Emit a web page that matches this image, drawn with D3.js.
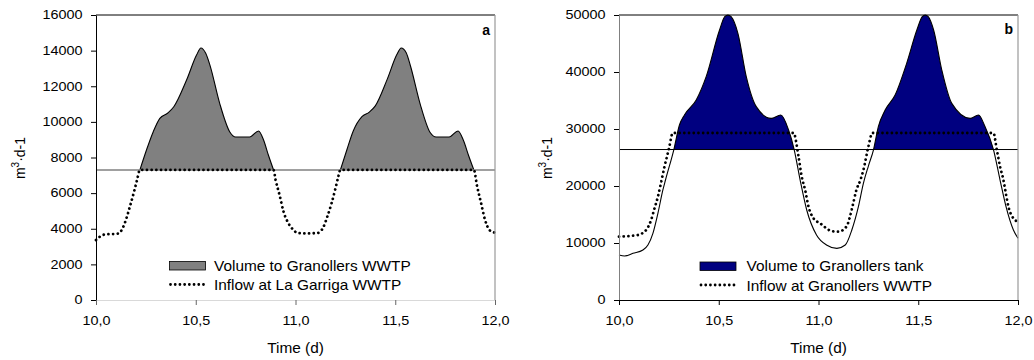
<!DOCTYPE html>
<html>
<head>
<meta charset="utf-8">
<script src="https://cdn.jsdelivr.net/npm/d3@7"></script>
<style>
    body { margin: 0; background: #fff; }
    svg { font-family: "Liberation Sans", Arial, Helvetica, sans-serif; }
</style>
</head>
<body>
<svg id="chart" width="1034" height="360"></svg>
<script>
// axis ticks
var xTicks = [10, 10.5, 11, 11.5, 12];
var xTickLabels = ["10,0", "10,5", "11,0", "11,5", "12,0"];
var yTicksA = [0, 2000, 4000, 6000, 8000, 10000, 12000, 14000, 16000];
var yTicksB = [0, 10000, 20000, 30000, 40000, 50000];

// panel a : La Garriga
var thresholdA = 7300;
var inflowTimeA = [10.00, 10.02, 10.05, 10.08, 10.11, 10.13, 10.15, 10.17, 10.19, 10.205, 10.22,
    10.89, 10.90, 10.92, 10.94, 10.965, 10.99, 11.01, 11.06, 11.11, 11.14, 11.16, 11.18, 11.20, 11.213, 11.225,
    11.894, 11.91, 11.93, 11.95, 11.975, 12.00];
var inflowA = [3370, 3560, 3690, 3700, 3730, 3950, 4500, 5250, 6050, 6700, 7300,
    7300, 6750, 5900, 4960, 4300, 3930, 3760, 3740, 3760, 4100, 4700, 5400, 6250, 6850, 7300,
    7300, 6400, 5450, 4500, 3900, 3780];
var volTimeA1 = [10.22, 10.253, 10.287, 10.32, 10.36, 10.39, 10.454, 10.504, 10.526, 10.55, 10.571,
    10.62, 10.67, 10.70, 10.77, 10.815, 10.84, 10.864, 10.89];
var volA1 = [7300, 8420, 9450, 10200, 10500, 10850, 12350, 13750, 14150, 13850, 13190,
    11040, 9450, 9150, 9150, 9490, 8980, 8140, 7300];
var volTimeA2 = [11.225, 11.258, 11.29, 11.333, 11.37, 11.40, 11.46, 11.508, 11.53, 11.555, 11.576,
    11.625, 11.675, 11.705, 11.77, 11.815, 11.842, 11.868, 11.894];
var volA2 = [7300, 8450, 9500, 10290, 10550, 10900, 12400, 13780, 14150, 13880, 13150,
    11000, 9400, 9150, 9150, 9490, 8950, 8100, 7300];

// panel b : Granollers
var thresholdB = 26400;
var totalTimeB = [10.00, 10.028, 10.07, 10.12, 10.145, 10.17, 10.195, 10.22, 10.233, 10.275, 10.303, 10.328,
    10.387, 10.437, 10.504, 10.53, 10.546, 10.562, 10.596, 10.638, 10.688, 10.763, 10.811, 10.85, 10.878,
    10.908, 10.941, 10.99, 11.04, 11.092, 11.134, 11.167, 11.20, 11.225, 11.25, 11.276, 11.30, 11.334,
    11.384, 11.442, 11.493, 11.52, 11.535, 11.55, 11.577, 11.618, 11.668, 11.76, 11.802, 11.835, 11.877,
    11.91, 11.94, 11.977, 12.00];
var totalB = [7900, 7720, 8190, 8770, 9650, 11700, 15210, 19300, 21050, 26400, 30700, 32460,
    35090, 39180, 47370, 49700, 50000, 49700, 46790, 39180, 33920, 31870, 32460, 29820, 26400,
    21050, 15790, 11400, 9650, 9060, 9650, 12280, 16370, 20470, 23500, 26400, 30400, 33330,
    35960, 41520, 47370, 49700, 50000, 49700, 47370, 40350, 34500, 31870, 32460, 30400, 26400,
    21050, 16370, 12280, 10820];
var inflowTimeB = [10.00, 10.053, 10.094, 10.136, 10.161, 10.178, 10.195, 10.21, 10.228, 10.25, 10.27,
    10.875, 10.90, 10.916, 10.933, 10.95, 10.975, 11.008, 11.066, 11.10, 11.14, 11.17, 11.19, 11.21,
    11.225, 11.25, 11.27, 11.877, 11.894, 11.91, 11.927, 11.936, 11.952, 11.977, 12.00];
var inflowB = [11110, 11230, 11400, 12280, 14040, 16080, 18120, 20470, 23390, 26500, 29300,
    29300, 25140, 21630, 19300, 16370, 14330, 13450, 12100, 11990, 12870, 16370, 19300, 21050,
    22800, 26900, 29300, 29300, 26310, 23390, 21050, 19300, 16370, 14330, 13740];

var CH; // chart namespace
( function () {
    "use strict";

    var top = 15, bottom = 300;

    function pts(ts, vs) {
        return ts.map(function (t, i) { return {t: t, v: vs[i]}; });
    }

    CH = {

        drawPanel: function (svg, c) {
            var x = d3.scaleLinear().domain([10, 12]).range([c.x0, c.x1]);
            var y = d3.scaleLinear().domain([0, c.yMax]).range([bottom, top]);
            var g = svg.append("g");

            var line = d3.line()
                .x(function (d) { return x(d.t); })
                .y(function (d) { return y(d.v); })
                .curve(d3.curveMonotoneX);
            var area = d3.area()
                .x(function (d) { return x(d.t); })
                .y0(y(c.threshold))
                .y1(function (d) { return y(d.v); })
                .curve(d3.curveMonotoneX);

            // clip everything "volume" to the part above the threshold
            var clipId = "clip-" + c.letter;
            svg.append("clipPath").attr("id", clipId)
                .append("rect")
                .attr("x", c.x0).attr("y", top - 2)
                .attr("width", c.x1 - c.x0)
                .attr("height", y(c.threshold) - top + 2);

            c.volume.forEach(function (s) {
                g.append("path").datum(s)
                    .attr("clip-path", "url(#" + clipId + ")")
                    .attr("d", area)
                    .attr("fill", c.fill);
            });
            c.volume.forEach(function (s) {
                g.append("path").datum(s)
                    .attr("clip-path", c.clipLine ? "url(#" + clipId + ")" : null)
                    .attr("d", line)
                    .attr("fill", "none")
                    .attr("stroke", "#000")
                    .attr("stroke-width", 1.1);
            });

            // threshold line
            g.append("line")
                .attr("x1", c.x0).attr("x2", c.x1)
                .attr("y1", y(c.threshold)).attr("y2", y(c.threshold))
                .attr("stroke", c.thrColor)
                .attr("stroke-width", c.thrWidth);

            // dotted inflow
            g.append("path").datum(c.inflow)
                .attr("d", line)
                .attr("fill", "none")
                .attr("stroke", "#000")
                .attr("stroke-width", 2.8)
                .attr("stroke-linecap", "round")
                .attr("stroke-dasharray", "0.01,4.7");

            // frame: top and right
            g.append("line")
                .attr("x1", c.x0).attr("x2", c.x1).attr("y1", top).attr("y2", top)
                .attr("stroke", "#000").attr("stroke-width", 1);
            g.append("line")
                .attr("x1", c.x1).attr("x2", c.x1).attr("y1", top).attr("y2", bottom)
                .attr("stroke", "#999").attr("stroke-width", 1.2);

            // y axis
            var ya = g.append("g")
                .attr("transform", "translate(" + c.x0 + ",0)")
                .call(d3.axisLeft(y).tickValues(c.yTicks).tickSize(5).tickSizeOuter(0)
                    .tickFormat(d3.format("d")));
            ya.select(".domain").attr("stroke", c.yAxisColor);
            ya.selectAll(".tick line").attr("stroke", "#000");
            ya.selectAll(".tick text")
                .attr("x", -11.2)
                .attr("transform", "scale(1.2,1)")
                .attr("font-size", 12)
                .attr("font-family", null)
                .attr("fill", "#000");

            // x axis
            var xa = g.append("g")
                .attr("transform", "translate(0," + bottom + ")")
                .call(d3.axisBottom(x).tickValues(xTicks).tickSize(5).tickSizeOuter(0)
                    .tickFormat(function (d, i) { return xTickLabels[i]; }));
            xa.select(".domain").attr("stroke", c.xAxisColor);
            xa.selectAll(".tick line").attr("stroke", c.xTickColor);
            xa.selectAll(".tick text")
                .attr("y", 16.5)
                .attr("transform", "scale(1.2,1)")
                .attr("font-size", 12)
                .attr("font-family", null)
                .attr("fill", "#000");

            // titles
            g.append("text")
                .attr("transform", "translate(" + ((c.x0 + c.x1) / 2) + ",353) scale(1.1,1)")
                .attr("text-anchor", "middle")
                .attr("font-size", 14)
                .text("Time (d)");

            var yt = g.append("text")
                .attr("transform", "translate(" + c.yTitleX + ",158) rotate(-90)")
                .attr("text-anchor", "middle")
                .attr("font-size", 14);
            yt.append("tspan").text("m");
            yt.append("tspan").attr("font-size", 10).attr("dy", -6).text("3");
            yt.append("tspan").attr("dy", 6).text("\u00b7d-1");

            g.append("text")
                .attr("x", c.x1 - 5).attr("y", c.letterY)
                .attr("text-anchor", "end")
                .attr("font-size", 14)
                .attr("font-weight", "bold")
                .text(c.letter);

            // legend
            var lg = c.legend;
            g.append("rect")
                .attr("x", lg.x).attr("y", lg.y1 - 9)
                .attr("width", 36).attr("height", 8.5)
                .attr("fill", c.fill).attr("stroke", "#000").attr("stroke-width", 0.8);
            g.append("text")
                .attr("transform", "translate(" + (lg.x + lg.gap) + "," + lg.y1 + ") scale(1.1,1)")
                .attr("font-size", 14)
                .text(lg.labels[0]);
            g.append("line")
                .attr("x1", lg.x + 1).attr("x2", lg.x + 36)
                .attr("y1", lg.y2 - 5.5).attr("y2", lg.y2 - 5.5)
                .attr("stroke", "#000").attr("stroke-width", 2.8)
                .attr("stroke-linecap", "round").attr("stroke-dasharray", "0.01,4.7");
            g.append("text")
                .attr("transform", "translate(" + (lg.x + lg.gap) + "," + lg.y2 + ") scale(1.1,1)")
                .attr("font-size", 14)
                .text(lg.labels[1]);
        },

        createChart: function () {
            var svg = d3.select("#chart");

            CH.drawPanel(svg, {
                x0: 96, x1: 495, yMax: 16000, yTicks: yTicksA,
                threshold: thresholdA, thrColor: "#808080", thrWidth: 1.6,
                fill: "#808080", clipLine: true,
                volume: [pts(volTimeA1, volA1), pts(volTimeA2, volA2)],
                inflow: pts(inflowTimeA, inflowA),
                yAxisColor: "#000", xAxisColor: "#d9d9d9", xTickColor: "#666",
                yTitleX: 24.5, letter: "a", letterY: 35,
                legend: {x: 169.5, gap: 44.5, y1: 270.5, y2: 290,
                    labels: ["Volume to Granollers WWTP", "Inflow at La Garriga WWTP"]}
            });

            CH.drawPanel(svg, {
                x0: 619, x1: 1018, yMax: 50000, yTicks: yTicksB,
                threshold: thresholdB, thrColor: "#000", thrWidth: 1,
                fill: "#000080", clipLine: false,
                volume: [pts(totalTimeB, totalB)],
                inflow: pts(inflowTimeB, inflowB),
                yAxisColor: "#808080", xAxisColor: "#000", xTickColor: "#000",
                yTitleX: 551.5, letter: "b", letterY: 34,
                legend: {x: 700, gap: 46.5, y1: 271, y2: 290.5,
                    labels: ["Volume to Granollers tank", "Inflow at Granollers WWTP"]}
            });
        }
    };

    document.addEventListener("DOMContentLoaded", CH.createChart);
}() );
</script>
</body>
</html>
